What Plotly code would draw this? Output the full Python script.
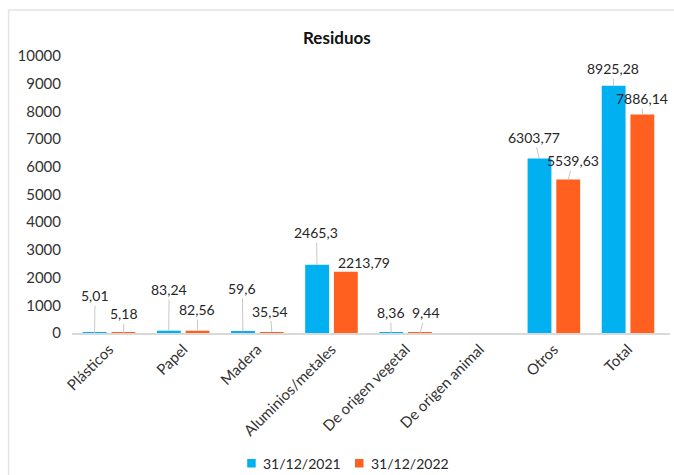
import plotly.graph_objects as go

# Waste quantities by category, two reporting dates
categories = ["Plásticos", "Papel", "Madera", "Aluminios/metales",
              "De origen vegetal", "De origen animal", "Otros", "Total"]
series_2021 = [5.01, 83.24, 59.6, 2465.3, 8.36, None, 6303.77, 8925.28]
series_2022 = [5.18, 82.56, 35.54, 2213.79, 9.44, None, 5539.63, 7886.14]
series_names = ["31/12/2021", "31/12/2022"]
y_ticks = list(range(0, 10001, 1000))

BLUE = "#00B0F0"
ORANGE = "#FF5F1F"
FONT = "Lato"

# plot area geometry in pixels (used to place paper-referenced items)
W, H = 674, 475
L, R, T, B = 71.5, 3.5, 56, 142
PW, PH = W - L - R, H - T - B


def px_x(x):
    return (x - L) / PW


def px_y(y):
    return (H - B - y) / PH


# label offsets (px) relative to each bar top: (dx, dy, show leader line)
offsets_2021 = [(0.5, -37, True), (0.5, -41, True), (-0.5, -43, True), (-0.5, -32, True),
                (-0.5, -20, True), None, (-5.5, -21, True), (-0.5, -17, True)]
offsets_2022 = [(0.5, -19, True), (-0.5, -21, True), (-1.5, -21, True), (18.5, -9, False),
                (5.5, -20, True), None, (4.5, -19, True), (-0.5, -16, True)]

fig = go.Figure()
for name, vals, color in ((series_names[0], series_2021, BLUE),
                          (series_names[1], series_2022, ORANGE)):
    fig.add_trace(go.Bar(name=name, x=categories, y=vals,
                         marker=dict(color=color, line=dict(width=0))))


def fmt(v):
    s = f"{v:.2f}".rstrip("0").rstrip(".")
    return s.replace(".", ",")


annotations = []
for vals, offs, shift in ((series_2021, offsets_2021, -14.5),
                          (series_2022, offsets_2022, 14.5)):
    for cat, v, off in zip(categories, vals, offs):
        if v is None or off is None:
            continue
        dx, dy, line = off
        annotations.append(dict(
            x=cat, y=v, xref="x", yref="y", xshift=shift,
            text=fmt(v), showarrow=True, ax=dx, ay=dy,
            arrowhead=0, arrowwidth=1,
            arrowcolor="#c8c8c8" if line else "rgba(0,0,0,0)",
            font=dict(family=FONT, size=14, color="#262626"),
        ))

annotations.append(dict(
    text="<b>Residuos</b>", xref="paper", yref="paper",
    x=px_x(337), y=px_y(38), xanchor="center", yanchor="middle",
    showarrow=False, font=dict(family=FONT, size=17, color="#111111"),
))

# legend: small square key followed by the series name
shapes = [dict(type="rect", xref="paper", yref="paper",
               x0=px_x(8), x1=1.2, y0=-1.0, y1=px_y(10),
               line=dict(color="#e4e4e4", width=1.5), layer="below")]
for name, color, key_x in ((series_names[0], BLUE, 247), (series_names[1], ORANGE, 355)):
    shapes.append(dict(type="rect", xref="paper", yref="paper",
                       x0=px_x(key_x), x1=px_x(key_x + 8.5),
                       y0=px_y(467.5), y1=px_y(459),
                       fillcolor=color, line=dict(width=0)))
    annotations.append(dict(text=name, xref="paper", yref="paper",
                            x=px_x(key_x + 14), y=px_y(463.5),
                            xanchor="left", yanchor="middle", showarrow=False,
                            font=dict(family=FONT, size=14, color="#262626")))

fig.update_layout(
    width=W, height=H,
    margin=dict(l=L, r=R, t=T, b=B, autoexpand=False),
    paper_bgcolor="white", plot_bgcolor="white",
    barmode="group", bargap=0.225, bargroupgap=0.17,
    font=dict(family=FONT, size=14, color="#333333"),
    showlegend=False,
    annotations=annotations,
    shapes=shapes,
)
fig.update_xaxes(showline=True, linecolor="#d9d9d9", linewidth=1.5, ticks="",
                 tickangle=-45, tickfont=dict(family=FONT, size=15, color="#333333"),
                 showgrid=False, automargin=False)
fig.update_yaxes(range=[0, 10000], tickvals=y_ticks, ticktext=[str(t) for t in y_ticks],
                 showgrid=False, zeroline=False,
                 showline=False, ticks="", ticklabelstandoff=10,
                 tickfont=dict(family=FONT, size=15, color="#333333"), automargin=False)

fig.write_html("out.html")
